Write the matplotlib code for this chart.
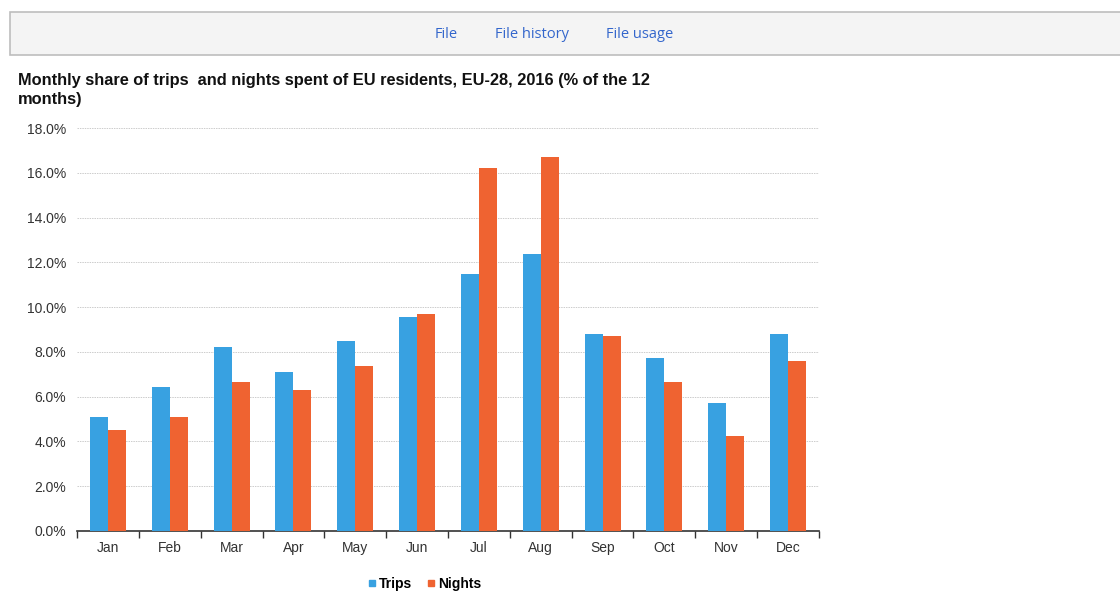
import matplotlib.pyplot as plt
import numpy as np
from matplotlib.patches import Rectangle
from matplotlib.lines import Line2D
from matplotlib.ticker import FuncFormatter, MultipleLocator

months = ["Jan", "Feb", "Mar", "Apr", "May", "Jun", "Jul", "Aug", "Sep", "Oct", "Nov", "Dec"]
trips = [5.07, 6.42, 8.22, 7.10, 8.50, 9.57, 11.46, 12.39, 8.78, 7.71, 5.71, 8.78]
nights = [4.50, 5.07, 6.64, 6.32, 7.37, 9.70, 16.20, 16.72, 8.72, 6.64, 4.23, 7.58]

title = "Monthly share of trips  and nights spent of EU residents, EU-28, 2016 (% of the 12\nmonths)"
links = ["File", "File history", "File usage"]

blue = "#38a1e1"
orange = "#ef6331"

plt.rcParams['font.family'] = ['Liberation Sans', 'DejaVu Sans']

fig = plt.figure(figsize=(11.2, 5.92), dpi=100)
W, H = 1120, 592

# page header bar
fig.patches.append(Rectangle((10 / W, 1 - 55 / H), 1.2, 43 / H, transform=fig.transFigure,
                             facecolor="#f4f4f4", edgecolor="#bdbdbd", lw=1.2))
for txt, xc in zip(links, [446, 532, 640]):
    fig.text(xc / W, 1 - 34 / H, txt, ha="center", va="center", color="#3366cc",
             fontsize=10.5, family=["Open Sans", "DejaVu Sans"])

fig.text(18 / W, 1 - 73 / H, title, ha="left", va="top", fontsize=11.8,
         fontweight="bold", color="#111111", linespacing=1.3)

ax = fig.add_axes([77 / W, 1 - 531 / H, 742 / W, 403 / H])
x = np.arange(len(months))
bw = 0.29
ax.bar(x - bw / 2, trips, bw, color=blue, label="Trips", zorder=3)
ax.bar(x + bw / 2, nights, bw, color=orange, label="Nights", zorder=3)

ax.set_xlim(-0.5, len(months) - 0.5)
ax.set_ylim(0, 18)
ax.yaxis.set_major_locator(MultipleLocator(2))
ax.yaxis.set_major_formatter(FuncFormatter(lambda v, p: f"{v:.1f}%"))
ax.grid(axis="y", color="#cccccc", linestyle=(0, (1.5, 1)), lw=0.7, zorder=0)

for s in ["left", "right", "top"]:
    ax.spines[s].set_visible(False)
ax.spines["bottom"].set_color("#333333")
ax.spines["bottom"].set_linewidth(1.2)

ax.set_xticks(x)
ax.set_xticklabels(months, va="baseline")
ax.set_xticks(np.arange(-0.5, len(months)), minor=True)
ax.tick_params(axis="x", which="major", length=0, pad=15, labelsize=10, labelcolor="#333333")
ax.tick_params(axis="x", which="minor", length=5, width=1, color="#333333")
ax.tick_params(axis="y", length=0, pad=8, labelsize=10, labelcolor="#333333")

handles = [Line2D([], [], marker="s", ls="", color=blue, markersize=4),
           Line2D([], [], marker="s", ls="", color=orange, markersize=4)]
fig.legend(handles, ["Trips", "Nights"], loc="center", bbox_to_anchor=(423 / W, 1 - 584 / H),
           ncol=2, frameon=False, handletextpad=0.05, columnspacing=0.8, handlelength=1.0,
           prop={"weight": "bold", "size": 10})

fig.savefig("out.png", dpi=100)
